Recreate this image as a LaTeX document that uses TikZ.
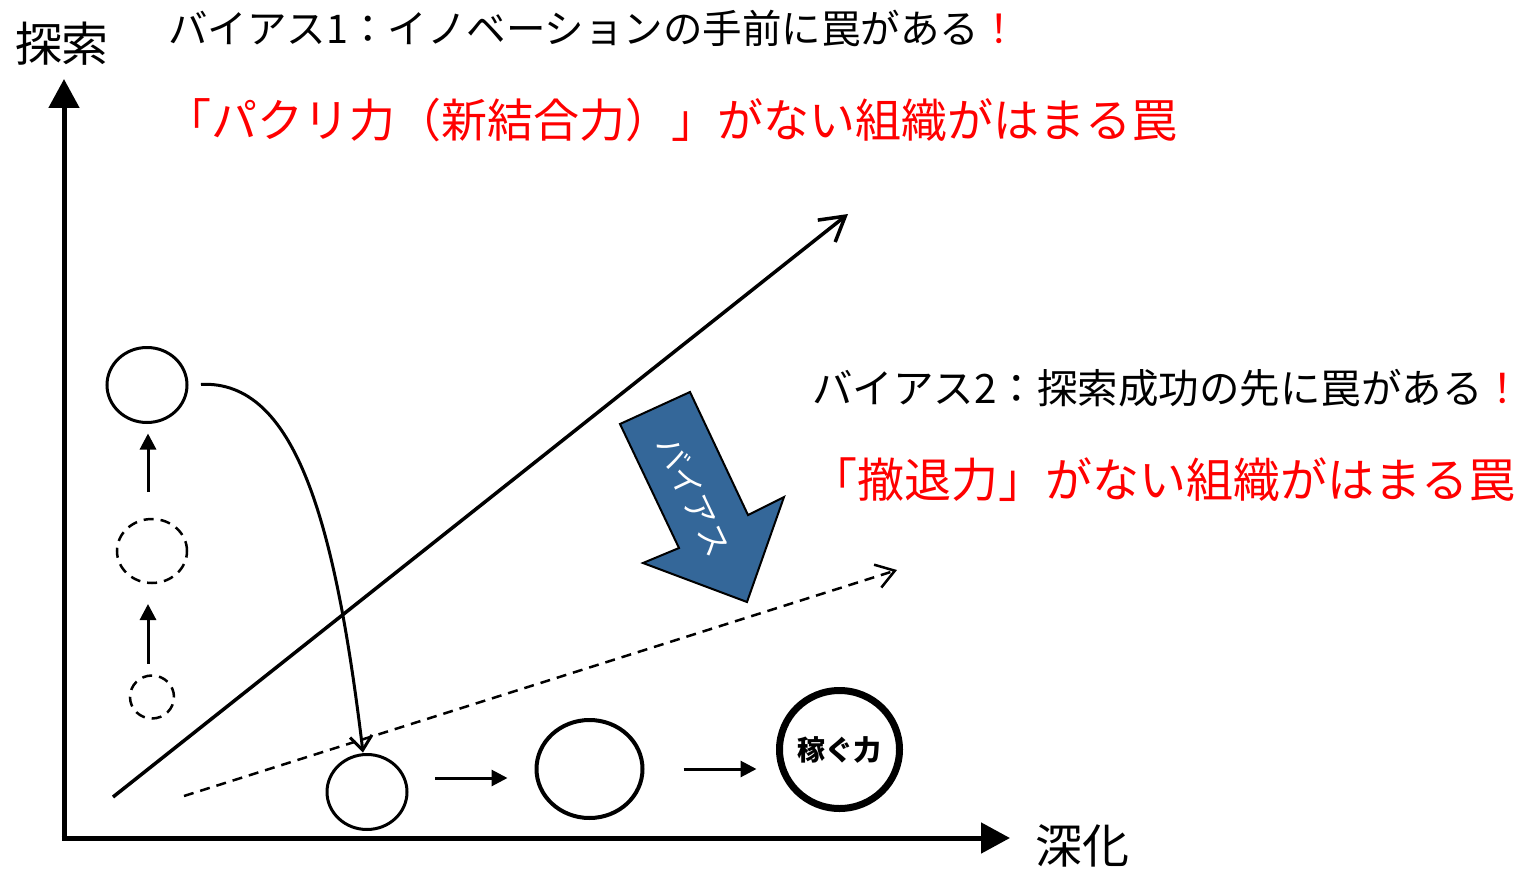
\documentclass[tikz,border=0pt]{standalone}
\usepackage{fontspec}
\newfontfamily\jp{Noto Sans CJK JP}
\usetikzlibrary{arrows.meta,shapes.geometric,calc}
\definecolor{biasblue}{RGB}{52,103,153}
\definecolor{tred}{RGB}{255,0,0}
\begin{document}
\begin{tikzpicture}[x=1pt,y=-1pt,
  circ/.style={ellipse, draw, line width=3pt, inner sep=0pt, outer sep=0pt},
  dcirc/.style={circ, line width=2.5pt, dash pattern=on 10pt off 7pt},
  thickcirc/.style={ellipse, draw, line width=7pt, inner sep=0pt, outer sep=0pt},
  smallarrow/.style={line width=3pt, -{Triangle[length=16pt,width=16pt]}},
  axisline/.style={line width=5pt, -{Triangle[length=29pt,width=30pt]}},
  jptext/.style={font=\jp, inner sep=0pt, anchor=west},
  lbl/.style={font=\jp, inner sep=0pt}
]
\fill[white] (0,0) rectangle (1526,872);
\useasboundingbox (0,0) rectangle (1526,872);

% axes
\coordinate (origin) at (64,838);
\coordinate (ytip) at (64,79);
\coordinate (xtip) at (1010,838);
\draw[axisline] ([yshift=2.5pt]origin) -- (ytip);
\draw[axisline] ([xshift=-2.5pt]origin) -- (xtip);
\node[lbl] (ylab) at (62,44) {\fontsize{47}{49}\selectfont 探索};
\node[lbl] (xlab) at (1082,846) {\fontsize{47}{49}\selectfont 深化};

% titles
\node[jptext] (t1) at (168,28) {\fontsize{39.5}{41}\selectfont バイアス1：イノベーションの手前に罠がある\textcolor{tred}{！}};
\node[jptext, text=tred] (t2) at (165,120) {\fontsize{46}{48}\selectfont 「パクリ力（新結合力）」がない組織がはまる罠};
\node[jptext] (t3) at (812,388) {\fontsize{40.5}{42}\selectfont バイアス2：探索成功の先に罠がある\textcolor{tred}{！}};
\node[jptext, text=tred] (t4) at (810,480) {\fontsize{47}{49}\selectfont 「撤退力」がない組織がはまる罠};

% diagonal lines
\coordinate (s0) at (113,797);
\coordinate (s1) at (848,214);
\draw[line width=3.5pt, -{Straight Barb[length=24pt,width=28pt]}] (s0) -- (s1);
\coordinate (d0) at (184,796);
\coordinate (d1) at (897,570);
\draw[line width=2.5pt, dash pattern=on 10pt off 7pt, -{Straight Barb[length=18pt,width=24pt]}] (d0) -- (d1);

% left column circles
\node[circ, minimum width=80pt, minimum height=75pt] (top) at (147,385) {};
\node[dcirc, minimum width=70pt, minimum height=64pt] (mid) at (152,551) {};
\node[dcirc, minimum width=44pt, minimum height=43pt] (low) at (152,697) {};
\draw[smallarrow] ($(mid.north)+(-4,-27)$) -- ($(top.south)+(1,11)$);
\draw[smallarrow] ($(low.north)+(-4,-12)$) -- ($(mid.south)+(-4,21)$);

% bottom circles
\node[circ, minimum width=80pt, minimum height=75pt] (b1) at (367,792) {};
\node[circ, line width=4pt, minimum width=106pt, minimum height=98pt] (b2) at (589.5,769) {};
\node[thickcirc, minimum width=120pt, minimum height=118pt, font=\jp\bfseries] (b3) at (839.5,749.5) {\fontsize{28}{30}\selectfont 稼ぐ力};
\draw[smallarrow] ($(b1.east)+(28,-14)$) -- ($(b2.west)+(-29,9)$);
\draw[smallarrow] ($(b2.east)+(41,0)$) -- ($(b3.west)+(-23,19.5)$);

% curved arrow
\draw[line width=3pt, -{Straight Barb[length=14pt,width=22pt]}, shorten <=14pt]
  (top.east) .. controls (295,380) and (335,520) .. ($(b1.north)+(-4,-2)$);

% blue bias arrow
\draw[fill=biasblue, line width=2pt, line join=miter]
  (620,424) -- (690,392) -- (748,515) -- (784,497) -- (747,602) -- (643,563) -- (679,548) -- cycle;
\node[lbl, text=white, rotate=-64.6] (biaslbl) at (694,496) {\fontsize{32}{34}\selectfont バイアス};
\end{tikzpicture}
\end{document}
